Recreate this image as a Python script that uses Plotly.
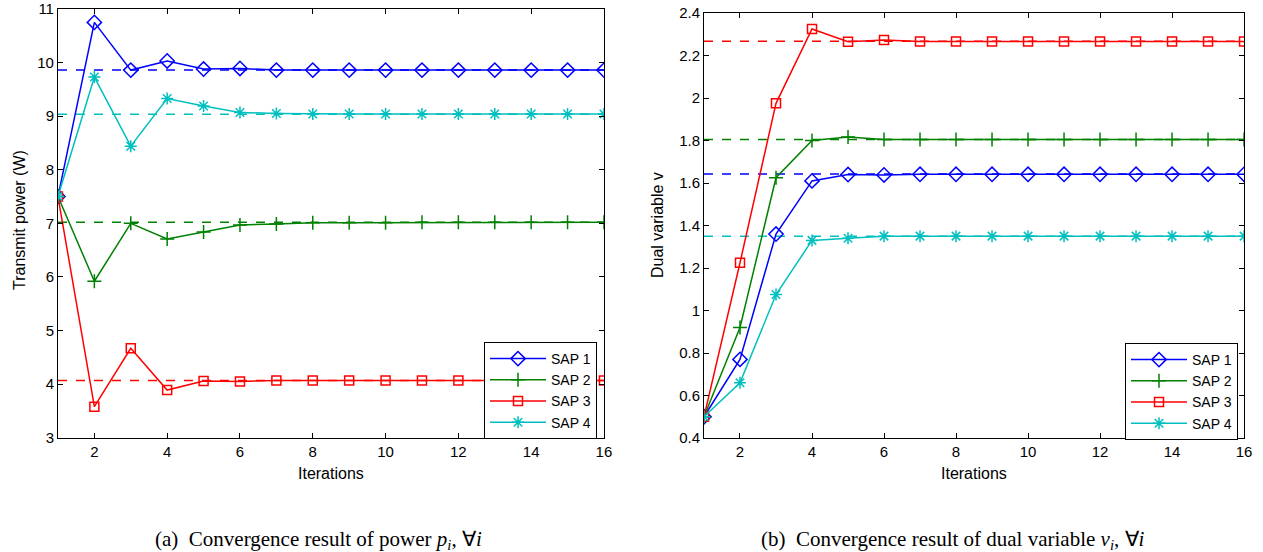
import plotly.graph_objects as go

iters = list(range(1, 17))
names = ["SAP 1", "SAP 2", "SAP 3", "SAP 4"]
colors = ["#0000FF", "#008000", "#FF0000", "#00BFBF"]
symbols = ["diamond-open", "cross-thin-open", "square-open", "asterisk-open"]
msizes = [11, 10, 9, 10]

# (a) transmit power
power_sap1 = [7.5, 10.75, 9.86, 10.03, 9.88, 9.89, 9.86, 9.86, 9.86, 9.86, 9.86, 9.86, 9.86, 9.86, 9.86, 9.86]
power_sap2 = [7.5, 5.92, 7.00, 6.71, 6.84, 6.97, 6.99, 7.01, 7.01, 7.01, 7.02, 7.02, 7.02, 7.02, 7.02, 7.02]
power_sap3 = [7.5, 3.58, 4.67, 3.89, 4.06, 4.05, 4.07, 4.07, 4.07, 4.07, 4.07, 4.07, 4.07, 4.07, 4.07, 4.07]
power_sap4 = [7.5, 9.73, 8.44, 9.33, 9.19, 9.07, 9.05, 9.04, 9.04, 9.04, 9.04, 9.04, 9.04, 9.04, 9.04, 9.04]
power_opt = [9.86, 7.02, 4.07, 9.035]

# (b) dual variable
dual_sap1 = [0.5, 0.77, 1.36, 1.61, 1.64, 1.638, 1.641, 1.641, 1.641, 1.641, 1.641, 1.641, 1.641, 1.641, 1.641, 1.641]
dual_sap2 = [0.5, 0.92, 1.625, 1.80, 1.817, 1.805, 1.805, 1.805, 1.805, 1.805, 1.805, 1.805, 1.805, 1.805, 1.805, 1.805]
dual_sap3 = [0.5, 1.225, 1.975, 2.325, 2.265, 2.273, 2.266, 2.266, 2.266, 2.266, 2.266, 2.266, 2.266, 2.266, 2.266, 2.266]
dual_sap4 = [0.5, 0.66, 1.075, 1.33, 1.34, 1.35, 1.35, 1.35, 1.35, 1.35, 1.35, 1.35, 1.35, 1.35, 1.35, 1.35]
dual_opt = [1.642, 1.805, 2.267, 1.35]

power = [power_sap1, power_sap2, power_sap3, power_sap4]
dual = [dual_sap1, dual_sap2, dual_sap3, dual_sap4]

left_ticks = [3, 4, 5, 6, 7, 8, 9, 10, 11]
right_ticks = [0.4, 0.6, 0.8, 1.0, 1.2, 1.4, 1.6, 1.8, 2.0, 2.2, 2.4]
right_ticktext = ["0.4", "0.6", "0.8", "1", "1.2", "1.4", "1.6", "1.8", "2", "2.2", "2.4"]
x_ticks = [2, 4, 6, 8, 10, 12, 14, 16]

SANS = "Liberation Sans, Arial, sans-serif"
SERIF = "Liberation Serif, Times New Roman, serif"

fig = go.Figure()

for panel, (data, opt) in enumerate([(power, power_opt), (dual, dual_opt)]):
    xa = "x" if panel == 0 else "x2"
    ya = "y" if panel == 0 else "y2"
    leg = "legend" if panel == 0 else "legend2"
    for i in range(4):
        fig.add_trace(go.Scatter(
            x=[iters[0], iters[-1]], y=[opt[i], opt[i]], mode="lines",
            line=dict(color=colors[i], width=1.5, dash="dash"),
            showlegend=False, xaxis=xa, yaxis=ya, hoverinfo="skip"))
    for i in range(4):
        fig.add_trace(go.Scatter(
            x=iters, y=data[i], mode="lines+markers", name=names[i],
            line=dict(color=colors[i], width=1.5),
            marker=dict(symbol=symbols[i], size=msizes[i], color=colors[i],
                        line=dict(color=colors[i], width=1.5)),
            legend=leg, xaxis=xa, yaxis=ya))

axis_common = dict(showgrid=False, zeroline=False, showline=True, linecolor="black",
                   linewidth=1, mirror="ticks", ticks="inside", ticklen=5,
                   tickcolor="black", tickfont=dict(family=SANS, size=15, color="black"),
                   automargin=False, ticklabeloverflow="allow")

legend_common = dict(yanchor="top", xanchor="right", bgcolor="white", bordercolor="black",
                     borderwidth=1, font=dict(family=SANS, size=14, color="black"),
                     itemwidth=56, tracegroupgap=0)

fig.update_layout(
    width=1263, height=552,
    margin=dict(l=0, r=0, t=0, b=0, autoexpand=False),
    paper_bgcolor="white", plot_bgcolor="white",
    font=dict(family=SANS, color="black"),
    xaxis=dict(domain=[0.0459, 0.4782], range=[1, 16], tickvals=x_ticks,
               anchor="y", **axis_common),
    yaxis=dict(domain=[0.207, 0.9837], range=[3, 11], tickvals=left_ticks,
               anchor="x", **axis_common),
    xaxis2=dict(domain=[0.5574, 0.985], range=[1, 16], tickvals=x_ticks,
                anchor="y2", **axis_common),
    yaxis2=dict(domain=[0.2065, 0.9764], range=[0.4, 2.4], tickvals=right_ticks,
                ticktext=right_ticktext, anchor="x2", **axis_common),
    legend=dict(x=597 / 1263, y=1 - 342 / 552, **legend_common),
    legend2=dict(x=1238 / 1263, y=1 - 343 / 552, **legend_common),
    showlegend=True,
)

annots = [
    dict(x=(0.0459 + 0.4782) / 2, y=1 - 473 / 552, text="Iterations", size=16, fam=SANS, angle=0),
    dict(x=(0.5574 + 0.985) / 2, y=1 - 473 / 552, text="Iterations", size=16, fam=SANS, angle=0),
    dict(x=19 / 1263, y=1 - 220 / 552, text="Transmit power (W)", size=16, fam=SANS, angle=-90),
    dict(x=658 / 1263, y=1 - 225 / 552, text="Dual variable v", size=16, fam=SANS, angle=-90),
    dict(x=318 / 1263, y=1 - 540 / 552, text="(a)  Convergence result of power <i>p<sub>i</sub></i>, ∀<i>i</i>", size=21, fam=SERIF, angle=0),
    dict(x=953 / 1263, y=1 - 540 / 552, text="(b)  Convergence result of dual variable <i>ν<sub>i</sub></i>, ∀<i>i</i>", size=21, fam=SERIF, angle=0),
]
for a in annots:
    fig.add_annotation(x=a["x"], y=a["y"], xref="paper", yref="paper", text=a["text"],
                       showarrow=False, textangle=a["angle"], xanchor="center", yanchor="middle",
                       font=dict(family=a["fam"], size=a["size"], color="black"))

fig.write_html("out.html")
